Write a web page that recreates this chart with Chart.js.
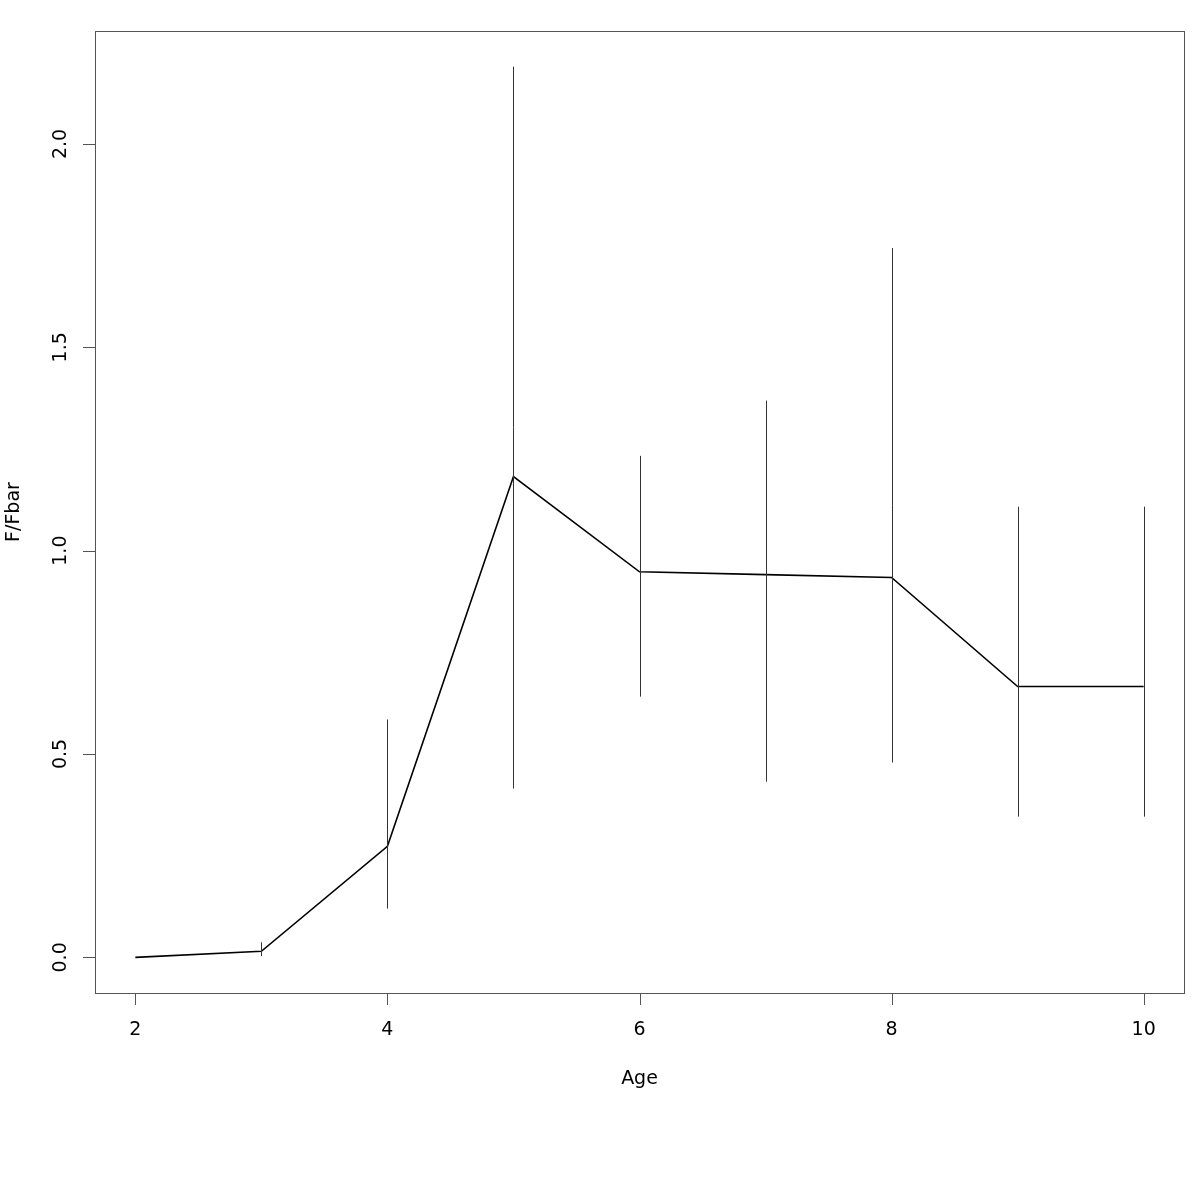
<!DOCTYPE html>
<html>
<head>
<meta charset="utf-8">
<script src="https://cdn.jsdelivr.net/npm/chart.js@4.4.0/dist/chart.umd.min.js"></script>
<style>
  html, body { margin: 0; padding: 0; background: #fff; }
  #wrap { width: 1200px; height: 1200px; }
</style>
</head>
<body>
<div id="wrap"><canvas id="fChart" width="1200" height="1200"></canvas></div>
<script>
// ── data ──
const ages   = [2, 3, 4, 5, 6, 7, 8, 9, 10];
const fRatio = [0.0, 0.015, 0.273, 1.182, 0.948, 0.941, 0.934, 0.666, 0.666];
const ciLow  = [null, 0.003, 0.12, 0.415, 0.641, 0.432, 0.479, 0.346, 0.346];
const ciHigh = [null, 0.037, 0.585, 2.19, 1.233, 1.369, 1.744, 1.108, 1.108];

const xTicks = [2, 4, 6, 8, 10];
const yTicks = [0, 0.5, 1, 1.5, 2];
const yTickLabels = ['0.0', '0.5', '1.0', '1.5', '2.0'];

const FONT = '19px "DejaVu Sans", sans-serif';

// R-style frame, ticks, labels and error bars
const rAxes = {
  id: 'rAxes',
  afterDatasetsDraw(chart) {
    const { ctx, chartArea: a, scales: { x, y } } = chart;
    ctx.save();

    // error bars
    ctx.strokeStyle = '#333';
    ctx.lineWidth = 1;
    ages.forEach((age, i) => {
      if (ciLow[i] == null) return;
      const px = Math.round(x.getPixelForValue(age)) + 0.5;
      ctx.beginPath();
      ctx.moveTo(px, y.getPixelForValue(ciLow[i]));
      ctx.lineTo(px, y.getPixelForValue(ciHigh[i]));
      ctx.stroke();
    });

    // box
    ctx.strokeStyle = '#555';
    ctx.strokeRect(Math.round(a.left) + 0.5, Math.round(a.top) + 0.5,
                   Math.round(a.right - a.left), Math.round(a.bottom - a.top));

    // x axis ticks
    ctx.fillStyle = '#000';
    ctx.font = FONT;
    ctx.textAlign = 'center';
    ctx.textBaseline = 'alphabetic';
    ctx.beginPath();
    xTicks.forEach(v => {
      const px = Math.round(x.getPixelForValue(v)) + 0.5;
      ctx.moveTo(px, a.bottom);
      ctx.lineTo(px, a.bottom + 12);
    });
    ctx.stroke();
    xTicks.forEach(v => {
      ctx.fillText(String(v), x.getPixelForValue(v), a.bottom + 42);
    });

    // y axis ticks
    ctx.beginPath();
    yTicks.forEach(v => {
      const py = Math.round(y.getPixelForValue(v)) + 0.5;
      ctx.moveTo(a.left, py);
      ctx.lineTo(a.left - 12, py);
    });
    ctx.stroke();
    yTicks.forEach((v, i) => {
      ctx.save();
      ctx.translate(a.left - 29, y.getPixelForValue(v));
      ctx.rotate(-Math.PI / 2);
      ctx.fillText(yTickLabels[i], 0, 0);
      ctx.restore();
    });

    // axis titles
    ctx.fillText('Age', (a.left + a.right) / 2, a.bottom + 91);
    ctx.save();
    ctx.translate(19, (a.top + a.bottom) / 2);
    ctx.rotate(-Math.PI / 2);
    ctx.fillText('F/Fbar', 0, 0);
    ctx.restore();

    ctx.restore();
  }
};

new Chart(document.getElementById('fChart').getContext('2d'), {
  type: 'line',
  data: {
    labels: ages,
    datasets: [{
      data: ages.map((a, i) => ({ x: a, y: fRatio[i] })),
      borderColor: '#000',
      borderWidth: 1.6,
      pointRadius: 0,
      tension: 0,
      fill: false
    }]
  },
  options: {
    responsive: false,
    animation: false,
    layout: { padding: { left: 95, top: 31, right: 16, bottom: 207 } },
    plugins: { legend: { display: false }, tooltip: { enabled: false } },
    scales: {
      x: { type: 'linear', display: false, min: 1.68, max: 10.32 },
      y: { type: 'linear', display: false, min: -0.0876, max: 2.2776 }
    }
  },
  plugins: [rAxes]
});
</script>
</body>
</html>
